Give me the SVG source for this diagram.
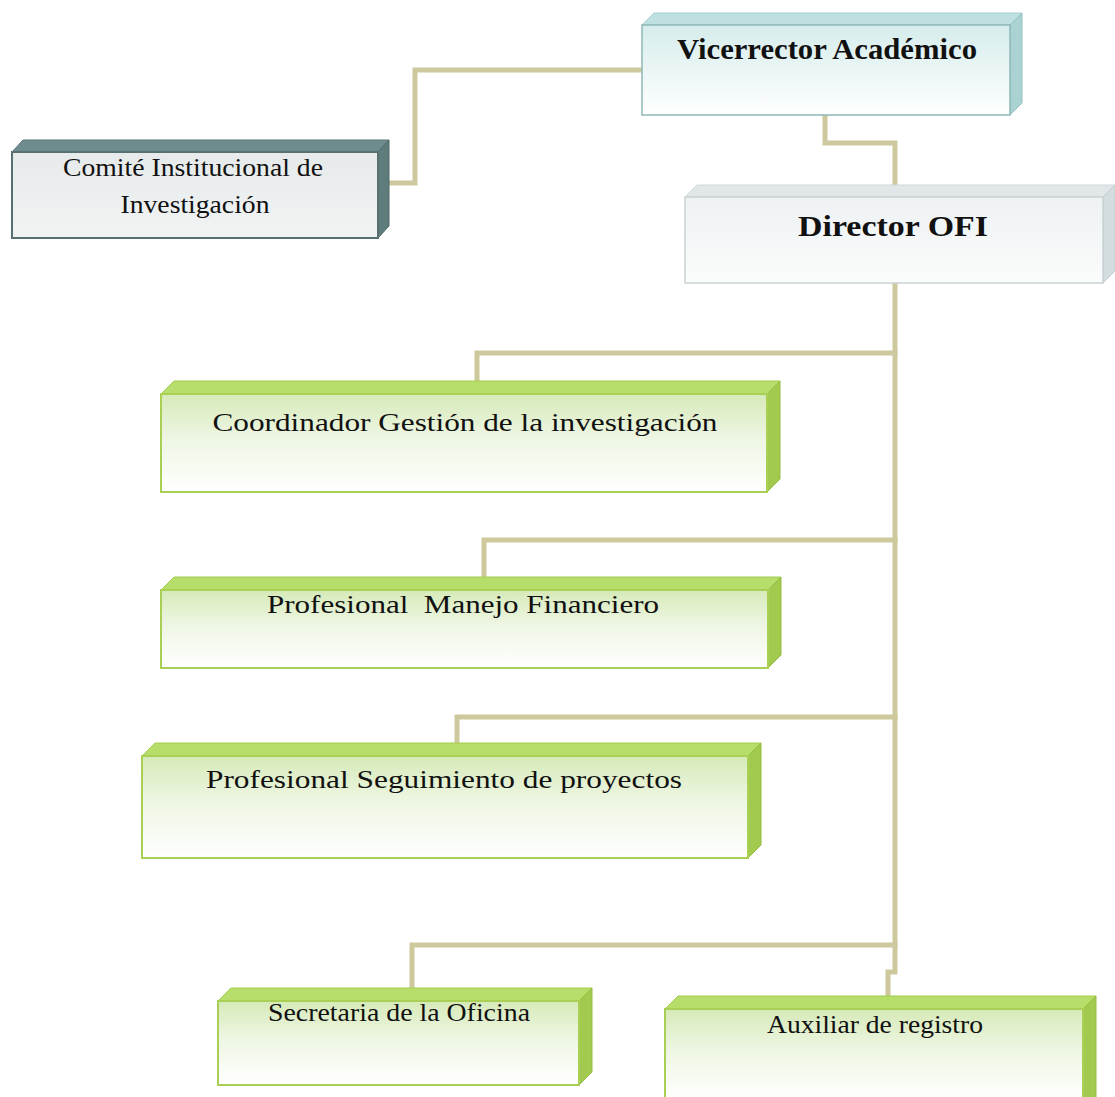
<svg xmlns="http://www.w3.org/2000/svg" width="1115" height="1097" viewBox="0 0 1115 1097">
<defs>
<linearGradient id="gGreen" x1="0" y1="0" x2="0" y2="1">
<stop offset="0" stop-color="#d6eab8"/>
<stop offset="0.45" stop-color="#eef6e3"/>
<stop offset="1" stop-color="#ffffff"/>
</linearGradient>
<linearGradient id="gCyan" x1="0" y1="0" x2="0" y2="1">
<stop offset="0" stop-color="#d6ecec"/>
<stop offset="1" stop-color="#ffffff"/>
</linearGradient>
<linearGradient id="gGray" x1="0" y1="0" x2="0" y2="1">
<stop offset="0" stop-color="#eef2f3"/>
<stop offset="1" stop-color="#fbfcfc"/>
</linearGradient>
<linearGradient id="gSlate" x1="0" y1="0" x2="0" y2="1">
<stop offset="0" stop-color="#e6eaea"/>
<stop offset="1" stop-color="#f2f4f4"/>
</linearGradient>
</defs>
<style>
.conn{fill:none;stroke:#cdc99c;stroke-width:5;stroke-linejoin:miter;stroke-linecap:square}
.gf{fill:url(#gGreen);stroke:#a9d054;stroke-width:2}
.gt{fill:#b7de6a;stroke:#a3cc4e;stroke-width:1}
.gs{fill:#a2ca4f;stroke:#93bd40;stroke-width:1}
.cf{fill:url(#gCyan);stroke:#8fb8b8;stroke-width:1.5}
.ct{fill:#bfe0e0;stroke:#a6cfcf;stroke-width:1}
.cs{fill:#aad2d2;stroke:#96c2c2;stroke-width:1}
.df{fill:url(#gGray);stroke:#c9d2d5;stroke-width:1.5}
.dt{fill:#e1e7e9;stroke:#cfd7da;stroke-width:1}
.ds{fill:#d3dcdf;stroke:#c4ced1;stroke-width:1}
.sf{fill:url(#gSlate);stroke:#58706f;stroke-width:2}
.st{fill:#6e8c8d;stroke:#5b7676;stroke-width:1}
.ss{fill:#5f7c7d;stroke:#4f6868;stroke-width:1}
.t{font-family:"Liberation Serif","Times New Roman",serif;font-size:26px;fill:#111;text-anchor:middle}
.b{font-weight:bold;font-size:30px}
</style>
<g id="connectors">
<polyline class="conn" points="642,70 415,70 415,183 390,183"/>
<polyline class="conn" points="825,117 825,143 895,143 895,184"/>
<polyline class="conn" points="895,285 895,972 888,972 888,995"/>
<polyline class="conn" points="895,353 477,353 477,379"/>
<polyline class="conn" points="895,540 484,540 484,575"/>
<polyline class="conn" points="895,717 457,717 457,741"/>
<polyline class="conn" points="895,945 412,945 412,987"/>
</g>
<g id="vicerrector">
<polygon class="ct" points="642,25 654,13 1022,13 1010,25"/>
<polygon class="cs" points="1010,25 1022,13 1022,103 1010,115"/>
<rect class="cf" x="642" y="25" width="368" height="90"/>
<text class="t b" x="827" y="59" textLength="300" lengthAdjust="spacingAndGlyphs">Vicerrector Académico</text>
</g>
<g id="comite">
<polygon class="st" points="12,152 23,140 389,140 378,152"/>
<polygon class="ss" points="378,152 389,140 389,226 378,238"/>
<rect class="sf" x="12" y="152" width="366" height="86"/>
<text class="t" x="193" y="176" textLength="260" lengthAdjust="spacingAndGlyphs">Comité Institucional de</text>
<text class="t" x="195" y="213" textLength="149" lengthAdjust="spacingAndGlyphs">Investigación</text>
</g>
<g id="director">
<polygon class="dt" points="685,197 697,185 1115,185 1103,197"/>
<polygon class="ds" points="1103,197 1115,185 1115,271 1103,283"/>
<rect class="df" x="685" y="197" width="418" height="86"/>
<text class="t b" x="893" y="236" textLength="190" lengthAdjust="spacingAndGlyphs">Director OFI</text>
</g>
<g id="coordinador">
<polygon class="gt" points="161,394 174,381 780,381 767,394"/>
<polygon class="gs" points="767,394 780,381 780,479 767,492"/>
<rect class="gf" x="161" y="394" width="606" height="98"/>
<text class="t" x="465" y="431" textLength="505" lengthAdjust="spacingAndGlyphs">Coordinador Gestión de la investigación</text>
</g>
<g id="manejo">
<polygon class="gt" points="161,590 174,577 781,577 768,590"/>
<polygon class="gs" points="768,590 781,577 781,655 768,668"/>
<rect class="gf" x="161" y="590" width="607" height="78"/>
<text class="t" x="463" y="613" textLength="392" lengthAdjust="spacingAndGlyphs" xml:space="preserve">Profesional  Manejo Financiero</text>
</g>
<g id="seguimiento">
<polygon class="gt" points="142,756 155,743 761,743 748,756"/>
<polygon class="gs" points="748,756 761,743 761,845 748,858"/>
<rect class="gf" x="142" y="756" width="606" height="102"/>
<text class="t" x="444" y="788" textLength="476" lengthAdjust="spacingAndGlyphs">Profesional Seguimiento de proyectos</text>
</g>
<g id="secretaria">
<polygon class="gt" points="218,1001 231,988 592,988 579,1001"/>
<polygon class="gs" points="579,1001 592,988 592,1072 579,1085"/>
<rect class="gf" x="218" y="1001" width="361" height="84"/>
<text class="t" x="399" y="1021" textLength="262" lengthAdjust="spacingAndGlyphs">Secretaria de la Oficina</text>
</g>
<g id="auxiliar">
<polygon class="gt" points="665,1009 678,996 1096,996 1083,1009"/>
<polygon class="gs" points="1083,1009 1096,996 1096,1100 1083,1100"/>
<rect class="gf" x="665" y="1009" width="418" height="92"/>
<text class="t" x="875" y="1033" textLength="216" lengthAdjust="spacingAndGlyphs">Auxiliar de registro</text>
</g>
</svg>
